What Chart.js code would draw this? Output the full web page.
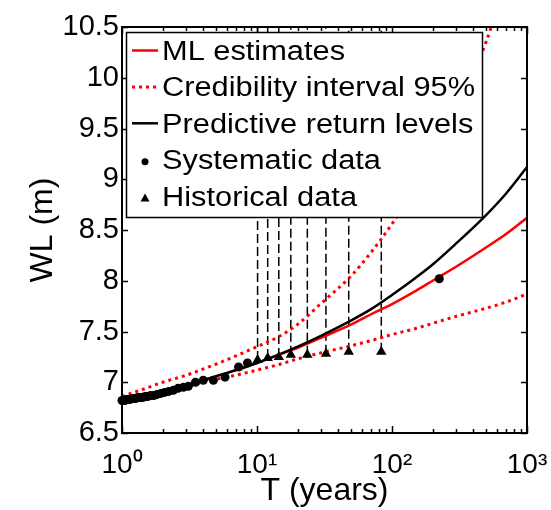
<!DOCTYPE html>
<html>
<head>
<meta charset="utf-8">
<script src="https://cdn.jsdelivr.net/npm/chart.js@4/dist/chart.umd.min.js"></script>
<style>
  body { margin: 0; background: #fff; }
  canvas { display: block; }
</style>
</head>
<body>
<canvas id="chart" width="551" height="510"></canvas>
<script>
const curveT = [1, 1.5, 2, 3, 5, 7, 10, 15, 20, 30, 50, 70, 100, 150, 200, 300, 500, 700, 1000];
const mlLevels = [6.82, 6.87, 6.91, 6.97, 7.06, 7.12, 7.19, 7.28, 7.34, 7.44, 7.57, 7.67, 7.77, 7.90, 8.00, 8.14, 8.33, 8.46, 8.62];
const ciLower = [6.81, 6.86, 6.90, 6.96, 7.03, 7.07, 7.12, 7.18, 7.23, 7.29, 7.36, 7.41, 7.47, 7.53, 7.58, 7.65, 7.73, 7.79, 7.87];
const ciUpper = [6.86, 6.94, 7.00, 7.07, 7.18, 7.26, 7.35, 7.46, 7.57, 7.78, 8.05, 8.28, 8.56, 8.94, 9.23, 9.69, 10.36, 11.00, 11.80];
const predictiveLevels = [6.82, 6.87, 6.91, 6.97, 7.06, 7.12, 7.19, 7.28, 7.35, 7.46, 7.61, 7.72, 7.86, 8.03, 8.16, 8.37, 8.65, 8.86, 9.12];

const systematicT = [1.0, 1.02, 1.05, 1.08, 1.11, 1.14, 1.18, 1.22, 1.26, 1.31, 1.36, 1.42, 1.48, 1.55, 1.63, 1.72, 1.82, 1.94, 2.07, 2.22, 2.4, 2.6, 2.85, 3.1, 3.5, 4.0, 4.75, 5.8, 7.3, 8.5, 224];
const systematicWL = [6.82, 6.82, 6.82, 6.83, 6.83, 6.83, 6.84, 6.84, 6.84, 6.85, 6.85, 6.85, 6.86, 6.86, 6.87, 6.87, 6.88, 6.89, 6.90, 6.91, 6.92, 6.94, 6.95, 6.96, 7.00, 7.02, 7.02, 7.05, 7.15, 7.19, 8.02];

const historicalT = [10.1, 12.0, 14.5, 17.8, 23.6, 32.4, 47.8, 83.3];
const historicalWL = [7.22, 7.24, 7.25, 7.27, 7.27, 7.28, 7.30, 7.30];

const wlTicks = [6.5, 7, 7.5, 8, 8.5, 9, 9.5, 10, 10.5];
const tTicks = [1, 10, 100, 1000];
const supDigits = ['\u2070', '\u00b9', '\u00b2', '\u00b3'];

const FONT = '"Liberation Sans", Arial, Helvetica, sans-serif';

function pairs(xs, ys) {
    return xs.map((x, i) => ({x: x, y: ys[i]}));
}

const datasets = [
    {
        label: 'ML estimates',
        data: pairs(curveT, mlLevels),
        borderColor: '#ff0000',
        borderWidth: 2.5,
        pointRadius: 0,
        cubicInterpolationMode: 'monotone',
        order: 3,
        legendRow: 0,
    },
    {
        label: 'Credibility interval 95%',
        data: pairs(curveT, ciLower),
        borderColor: '#ff0000',
        borderWidth: 3,
        borderDash: [3, 4],
        pointRadius: 0,
        cubicInterpolationMode: 'monotone',
        order: 4,
        legendRow: 1,
    },
    {
        label: 'Credibility interval 95% (upper)',
        data: pairs(curveT, ciUpper),
        borderColor: '#ff0000',
        borderWidth: 3,
        borderDash: [3, 4],
        pointRadius: 0,
        cubicInterpolationMode: 'monotone',
        order: 4,
    },
    {
        label: 'Predictive return levels',
        data: pairs(curveT, predictiveLevels),
        borderColor: '#000000',
        borderWidth: 2.5,
        pointRadius: 0,
        cubicInterpolationMode: 'monotone',
        order: 2,
        legendRow: 2,
    },
    {
        label: 'Systematic data',
        data: pairs(systematicT, systematicWL),
        showLine: false,
        pointStyle: 'circle',
        pointRadius: 4.5,
        backgroundColor: '#000000',
        borderColor: '#000000',
        borderWidth: 0,
        clip: false,
        order: 1,
        legendRow: 3,
    },
    {
        label: 'Historical data',
        data: pairs(historicalT, historicalWL),
        showLine: false,
        pointStyle: 'triangle',
        pointRadius: 6,
        backgroundColor: '#000000',
        borderColor: '#000000',
        borderWidth: 0,
        order: 1,
        legendRow: 4,
    },
];

// censored historical floods: dashed line from the perception level up
historicalT.forEach((t, i) => {
    datasets.push({
        label: 'historical ' + i,
        data: [{x: t, y: historicalWL[i]}, {x: t, y: wlTicks[wlTicks.length - 1]}],
        borderColor: '#000000',
        borderWidth: 1.5,
        borderDash: [9, 4],
        pointRadius: 0,
        order: 5,
    });
});

// MATLAB-like box with inward ticks on all four sides
const framePlugin = {
    id: 'frame',
    afterDatasetsDraw(chart) {
        const {ctx, chartArea: a, scales} = chart;
        ctx.save();
        ctx.strokeStyle = '#000';
        ctx.lineWidth = 1.5;
        ctx.beginPath();
        wlTicks.forEach((v) => {
            const y = Math.round(scales.y.getPixelForValue(v)) + 0.5;
            ctx.moveTo(a.left, y); ctx.lineTo(a.left + 6, y);
            ctx.moveTo(a.right, y); ctx.lineTo(a.right - 6, y);
        });
        tTicks.forEach((d) => {
            const x = Math.round(scales.x.getPixelForValue(d)) + 0.5;
            ctx.moveTo(x, a.bottom); ctx.lineTo(x, a.bottom - 7);
            ctx.moveTo(x, a.top); ctx.lineTo(x, a.top + 7);
            if (d < 1000) {
                for (let k = 2; k < 10; k++) {
                    const xm = Math.round(scales.x.getPixelForValue(d * k)) + 0.5;
                    ctx.moveTo(xm, a.bottom); ctx.lineTo(xm, a.bottom - 4);
                    ctx.moveTo(xm, a.top); ctx.lineTo(xm, a.top + 4);
                }
            }
        });
        ctx.stroke();
        ctx.lineWidth = 2;
        ctx.strokeRect(a.left, a.top, a.right - a.left, a.bottom - a.top);
        ctx.restore();
    }
};

// boxed legend in the upper left corner of the axes
const legendPlugin = {
    id: 'boxLegend',
    afterDraw(chart) {
        const {ctx, chartArea: a} = chart;
        const rows = chart.data.datasets.filter((d) => d.legendRow !== undefined)
            .sort((p, q) => p.legendRow - q.legendRow);
        const x0 = a.left + 4, y0 = a.top + 5, w = 356, h = 185;
        ctx.save();
        ctx.fillStyle = '#fff';
        ctx.fillRect(x0, y0, w, h);
        ctx.strokeStyle = '#000';
        ctx.lineWidth = 1.5;
        ctx.strokeRect(x0 + 0.5, y0 + 0.5, w, h);
        rows.forEach((ds, i) => {
            const cy = y0 + 20.5 + i * 36.4;
            if (ds.showLine === false) {
                ctx.fillStyle = ds.backgroundColor;
                ctx.beginPath();
                if (ds.pointStyle === 'triangle') {
                    ctx.moveTo(x0 + 19, cy - 4.5);
                    ctx.lineTo(x0 + 23.5, cy + 3.5);
                    ctx.lineTo(x0 + 14.5, cy + 3.5);
                    ctx.closePath();
                } else {
                    ctx.arc(x0 + 19, cy, 3.5, 0, Math.PI * 2);
                }
                ctx.fill();
            } else {
                ctx.strokeStyle = ds.borderColor;
                ctx.lineWidth = ds.borderWidth;
                ctx.setLineDash(ds.borderDash || []);
                ctx.beginPath();
                ctx.moveTo(x0 + 6, cy - 2);
                ctx.lineTo(x0 + 32, cy - 2);
                ctx.stroke();
                ctx.setLineDash([]);
            }
            ctx.save();
            ctx.translate(x0 + 36, cy);
            ctx.scale(1.14, 1);
            ctx.fillStyle = '#000';
            ctx.font = '27px ' + FONT;
            ctx.textBaseline = 'middle';
            ctx.fillText(ds.label, 0, 0);
            ctx.restore();
        });
        ctx.restore();
    }
};

const chart = new Chart(document.getElementById('chart'), {
    type: 'line',
    data: {datasets: datasets},
    options: {
        responsive: false,
        animation: false,
        layout: {padding: {left: 0, top: 27, right: 24, bottom: 0}},
        plugins: {
            legend: {display: false},
            tooltip: {enabled: false},
        },
        scales: {
            x: {
                type: 'logarithmic',
                position: 'bottom',
                min: 1,
                max: 1000,
                afterBuildTicks: (scale) => {
                    scale.ticks = tTicks.map((v) => ({value: v}));
                },
                afterFit: (scale) => {
                    scale.height = 77;
                    scale.paddingLeft = 0;
                    scale.paddingRight = 0;
                },
                grid: {display: false, drawTicks: false},
                border: {display: false},
                ticks: {
                    autoSkip: false,
                    maxRotation: 0,
                    padding: 15,
                    color: '#000',
                    font: {family: FONT, size: 28},
                    callback: (v) => '10' + supDigits[Math.round(Math.log10(v))],
                },
                title: {
                    display: true,
                    text: 'T (years)',
                    color: '#000',
                    font: {family: FONT, size: 32},
                    padding: {top: 0, bottom: 0},
                },
            },
            y: {
                type: 'linear',
                min: 6.5,
                max: 10.5,
                afterBuildTicks: (scale) => {
                    scale.ticks = wlTicks.map((v) => ({value: v}));
                },
                afterFit: (scale) => { scale.width = 122; },
                grid: {display: false, drawTicks: false},
                border: {display: false},
                ticks: {
                    padding: 3,
                    color: '#000',
                    font: {family: FONT, size: 29},
                    callback: (v) => String(v),
                },
                title: {
                    display: true,
                    text: 'WL (m)',
                    color: '#000',
                    font: {family: FONT, size: 32},
                    padding: {top: 24, bottom: 0},
                },
            },
        },
    },
    plugins: [framePlugin, legendPlugin],
});
</script>
</body>
</html>
